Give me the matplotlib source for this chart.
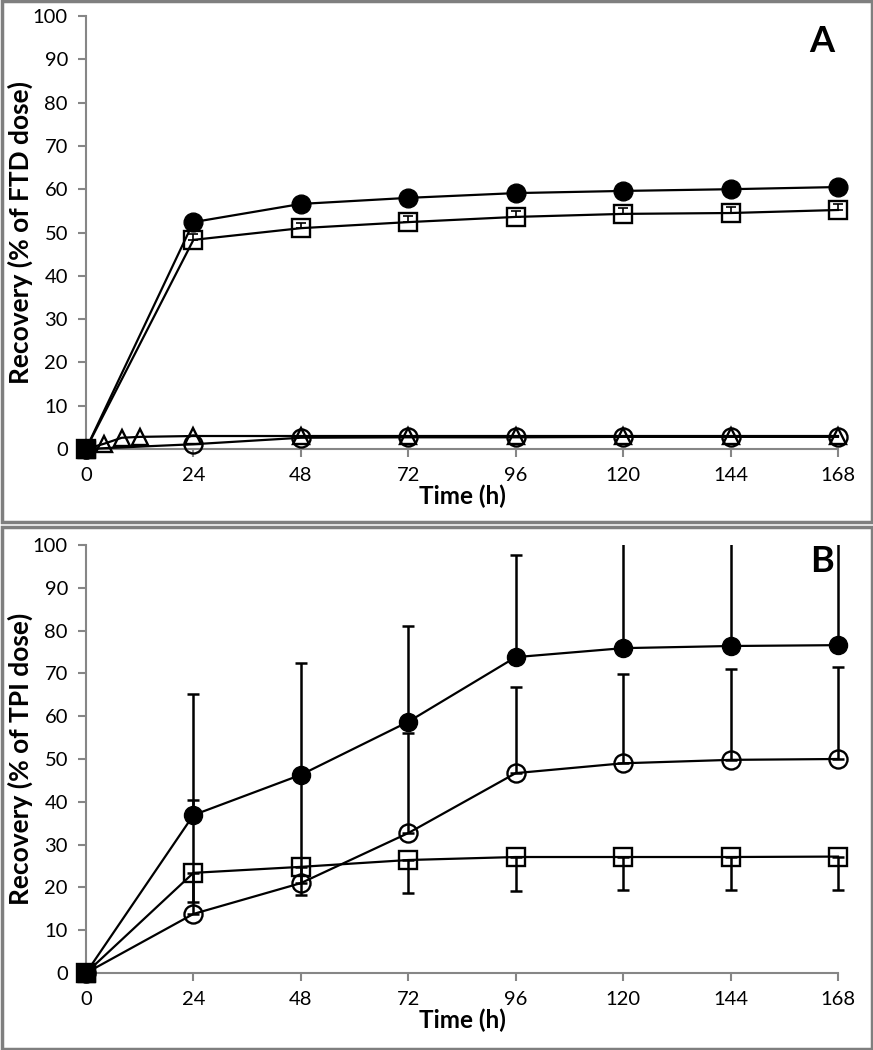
"""
Recovery of FTD and TPI dose over time (panels A and B).
"""

import numpy as np
import matplotlib.pyplot as plt
from matplotlib.patches import Rectangle

plt.rcParams['font.family'] = ['Lato', 'DejaVu Sans']

# ---- panel A data (FTD) ----
time_a = [0, 24, 48, 72, 96, 120, 144, 168]
total_a = [0, 52.4, 56.6, 58.0, 59.1, 59.6, 60.0, 60.5]
total_a_err = [0, 1.2, 1.2, 1.2, 1.2, 1.2, 1.2, 1.2]
urine_a = [0, 48.3, 51.0, 52.4, 53.6, 54.3, 54.5, 55.2]
urine_a_err = [0, 1.3, 1.3, 1.3, 1.3, 1.3, 1.3, 1.3]
time_tri = [0, 4, 8, 12, 24, 48, 72, 96, 120, 144, 168]
tri_a = [0, 1.2, 2.6, 2.8, 3.0, 3.0, 3.0, 3.0, 3.0, 3.0, 3.0]
circ_a = [0, 1.1, 2.6, 2.7, 2.7, 2.8, 2.8, 2.8]

# ---- panel B data (TPI) ----
time_b = [0, 24, 48, 72, 96, 120, 144, 168]
total_b = [0, 36.9, 46.3, 58.7, 73.8, 75.9, 76.4, 76.6]
total_b_up = [0, 28.4, 26.1, 22.3, 23.8, 28.0, 29.0, 29.0]
open_b = [0, 13.8, 21.0, 32.7, 46.7, 49.0, 49.8, 50.0]
open_b_up = [0, 26.6, 24.0, 23.4, 20.1, 20.8, 21.2, 21.5]
square_b = [0, 23.4, 24.8, 26.4, 27.1, 27.1, 27.1, 27.2]
square_b_low = [0, 6.8, 6.6, 7.7, 7.9, 7.7, 7.7, 7.8]

xticks = [0, 24, 48, 72, 96, 120, 144, 168]
yticks = np.arange(0, 101, 10)

W, H = 873, 1050
fig = plt.figure(figsize=(W / 100, H / 100), dpi=100)

# gray frames round each panel
for y0, y1 in [(1.5, 522), (527, 1048.5)]:
    fig.patches.append(Rectangle((1.5 / W, 1 - y1 / H), (W - 3) / W, (y1 - y0) / H,
                                 transform=fig.transFigure, fill=False,
                                 edgecolor='#7f7f7f', linewidth=2.5))

lw = 1.6
ms = 13
mew = 1.7


def style_axes(ax, ylabel):
    ax.set_xlim(0, 168)
    ax.set_ylim(0, 100)
    ax.set_xticks(xticks)
    ax.set_yticks(yticks)
    for s in ['top', 'right']:
        ax.spines[s].set_visible(False)
    for s in ['left', 'bottom']:
        ax.spines[s].set_color('#868686')
        ax.spines[s].set_linewidth(1.5)
        ax.spines[s].set_zorder(0)
    ax.tick_params(axis='both', color='#868686', width=1.5, length=6,
                   labelsize=14.5, direction='out')
    ax.tick_params(axis='x', pad=7)
    ax.tick_params(axis='y', pad=7)
    ax.set_xlabel('Time (h)', fontsize=17.5, fontweight='bold', labelpad=0)
    ax.set_ylabel(ylabel, fontsize=19, fontweight='bold', labelpad=0)


def bars(ax, x, y, err, lw_e, cap):
    eb = ax.errorbar(x, y, yerr=err, fmt='none', ecolor='k', elinewidth=lw_e,
                     capsize=cap, capthick=lw_e, zorder=4)
    # clip at the top of the axes only, so the bar at 168 is not cut in half
    clip = Rectangle((-0.05, -0.05), 1.1, 1.05, transform=ax.transAxes)
    for art in eb.lines[1] + eb.lines[2]:
        art.set_clip_path(clip)


# ---- panel A ----
ax1 = fig.add_axes([86 / W, 1 - 449 / H, 752 / W, 433 / H])
ax1.plot(time_a, total_a, '-o', color='k', lw=lw, ms=ms + 0.5, mfc='k', mec='k', clip_on=False, zorder=3)
bars(ax1, time_a[1:], total_a[1:], total_a_err[1:], 1.2, 3.5)
ax1.plot(time_a, urine_a, '-s', color='k', lw=lw, ms=ms, mfc='none', mec='k', mew=mew, clip_on=False, zorder=3)
bars(ax1, time_a[1:], urine_a[1:], [[0] * 7, urine_a_err[1:]], 1.2, 3.5)
ax1.plot(time_tri, tri_a, '-^', color='k', lw=lw, ms=11, mfc='none', mec='k', mew=mew, clip_on=False, zorder=3)
ax1.plot(time_a, circ_a, '-o', color='k', lw=lw, ms=ms, mfc='none', mec='k', mew=mew, clip_on=False, zorder=3)
ax1.plot(time_a[0], total_a[0], 's', color='k', ms=13.5, clip_on=False, zorder=5)
style_axes(ax1, 'Recovery (% of FTD dose)')
ax1.text(0.995, 0.98, 'A', transform=ax1.transAxes, ha='right', va='top',
         fontsize=26, fontweight='bold')

# ---- panel B ----
ax2 = fig.add_axes([86 / W, 1 - 973 / H, 752 / W, 428 / H])
ax2.plot(time_b, total_b, '-o', color='k', lw=lw, ms=ms, mfc='k', mec='k', clip_on=False, zorder=3)
bars(ax2, time_b[1:], total_b[1:], [[0] * 7, total_b_up[1:]], 1.8, 4)
ax2.plot(time_b, open_b, '-o', color='k', lw=lw, ms=ms, mfc='none', mec='k', mew=mew, clip_on=False, zorder=3)
bars(ax2, time_b[1:], open_b[1:], [[0] * 7, open_b_up[1:]], 1.8, 4)
ax2.plot(time_b, square_b, '-s', color='k', lw=lw, ms=ms, mfc='none', mec='k', mew=mew, clip_on=False, zorder=3)
bars(ax2, time_b[1:], square_b[1:], [square_b_low[1:], [0] * 7], 1.8, 4)
ax2.plot(time_b[0], total_b[0], 's', color='k', ms=13.5, clip_on=False, zorder=5)
style_axes(ax2, 'Recovery (% of TPI dose)')
ax2.text(0.995, 1.0, 'B', transform=ax2.transAxes, ha='right', va='top',
         fontsize=26, fontweight='bold')

fig.savefig('out.png', dpi=100)
